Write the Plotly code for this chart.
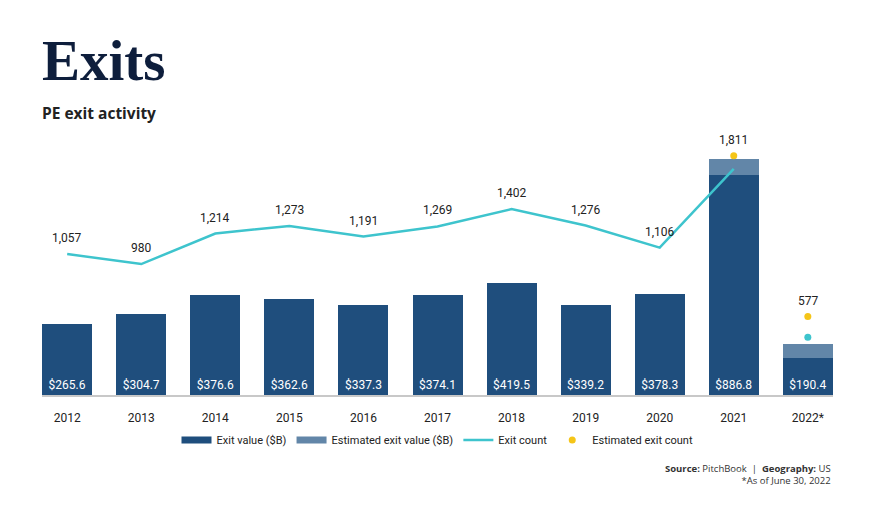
import plotly.graph_objects as go

years = ["2012", "2013", "2014", "2015", "2016", "2017", "2018", "2019", "2020", "2021", "2022*"]
exit_value = [265.6, 304.7, 376.6, 362.6, 337.3, 374.1, 419.5, 339.2, 378.3, 827.6, 139.2]
est_value = [0, 0, 0, 0, 0, 0, 0, 0, 0, 59.2, 51.2]
value_labels = ["$265.6", "$304.7", "$376.6", "$362.6", "$337.3", "$374.1", "$419.5", "$339.2", "$378.3", "$886.8", "$190.4"]

count_years = ["2012", "2013", "2014", "2015", "2016", "2017", "2018", "2019", "2020", "2021"]
exit_count = [1057, 980, 1214, 1273, 1191, 1269, 1402, 1276, 1106, 1710]
partial_year = ["2022*"]
partial_count = [418]
est_years = ["2021", "2022*"]
est_count = [1811, 577]

count_label_years = ["2012", "2013", "2014", "2015", "2016", "2017", "2018", "2019", "2020", "2021", "2022*"]
count_label_vals = [1057, 980, 1214, 1273, 1191, 1269, 1402, 1276, 1106, 1811, 577]

DARK = "#1f4e7d"
LIGHT = "#6286a8"
CYAN = "#3ec4cd"
YELLOW = "#f5c518"
FONT = "Roboto, Arial, sans-serif"

fig = go.Figure()
fig.add_trace(go.Bar(x=years, y=exit_value, name="Exit value ($B)", marker_color=DARK,
                     marker_line_width=0,
                     text=value_labels, textposition="inside", insidetextanchor="start",
                     textfont=dict(color="white", size=12, family=FONT), width=0.675,
                     textangle=0, showlegend=False))
fig.add_trace(go.Bar(x=years, y=est_value, name="Estimated exit value ($B)", marker_color=LIGHT,
                     marker_line_width=0, width=0.675, hoverinfo="skip", showlegend=False))
# legend entries (wide rectangles)
fig.add_trace(go.Scatter(x=[None], y=[None], mode="lines", name="Exit value ($B)",
                         line=dict(color=DARK, width=7)))
fig.add_trace(go.Scatter(x=[None], y=[None], mode="lines", name="Estimated exit value ($B)",
                         line=dict(color=LIGHT, width=7)))
fig.add_trace(go.Scatter(x=count_years, y=exit_count, name="Exit count", mode="lines",
                         line=dict(color=CYAN, width=2.5), yaxis="y2"))
fig.add_trace(go.Scatter(x=partial_year, y=partial_count, mode="markers", showlegend=False,
                         marker=dict(color=CYAN, size=7), yaxis="y2"))
fig.add_trace(go.Scatter(x=est_years, y=est_count, name="Estimated exit count", mode="markers",
                         marker=dict(color=YELLOW, size=7), yaxis="y2"))

for x, v in zip(count_label_years, count_label_vals):
    fig.add_annotation(x=years.index(x), y=v, xref="x", yref="y2", text=f"{v:,}", showarrow=False,
                       yshift=16, font=dict(size=12, color="#222", family=FONT))

fig.add_annotation(xref="paper", yref="paper", x=-0.003, y=1.264, xanchor="left", yanchor="middle",
                   text="<b>Exits</b>", showarrow=False,
                   font=dict(family="Liberation Serif, DejaVu Serif, serif", size=57, color="#0e1e3c"))
fig.add_annotation(xref="paper", yref="paper", x=-0.003, y=1.064, xanchor="left", yanchor="middle",
                   text="<b>PE exit activity</b>", showarrow=False,
                   font=dict(family="Open Sans, Arial, sans-serif", size=15.5, color="#222"))
fig.add_annotation(xref="paper", yref="paper", x=1.0, y=-0.30, xanchor="right", yanchor="middle",
                   align="right", showarrow=False,
                   text="<b>Source:</b> PitchBook  |  <b>Geography:</b> US<br>*As of June 30, 2022",
                   font=dict(family="Open Sans, Arial, sans-serif", size=9.5, color="#333"))

fig.update_layout(
    width=873, height=515,
    margin=dict(l=34, r=48, t=122, b=128),
    barmode="stack",
    plot_bgcolor="white", paper_bgcolor="white",
    font=dict(family=FONT, size=12, color="#222"),
    showlegend=True,
    legend=dict(orientation="h", x=0.5, xanchor="center", y=-0.17, yanchor="middle",
                font=dict(size=11, color="#222", family=FONT), traceorder="normal",
                itemwidth=30),
    xaxis=dict(type="category", range=[-0.34, 10.34], showline=True, linecolor="#c8c8c8",
               linewidth=1.5, ticks="outside", ticklen=11, tickcolor="white",
               tickfont=dict(size=12, color="#222", family=FONT), showgrid=False),
    yaxis=dict(range=[0, 996], visible=False, showgrid=False),
    yaxis2=dict(range=[-25, 2009], overlaying="y", visible=False, showgrid=False),
)

fig.write_html("out.html")
